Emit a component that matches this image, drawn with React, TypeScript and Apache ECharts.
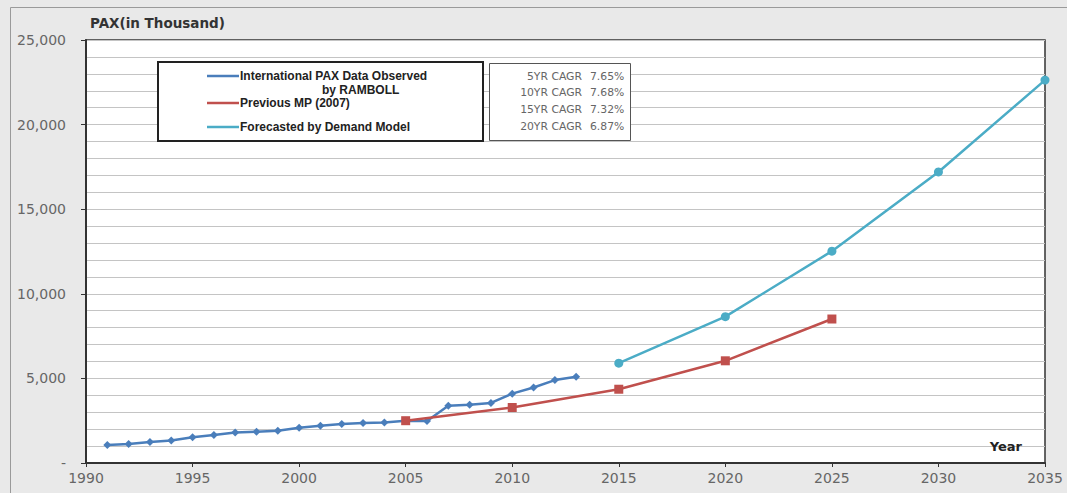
import React, { useEffect, useRef } from "react";
import * as echarts from "echarts";

// Observed international passengers (thousand)
const observedYears = [1991, 1992, 1993, 1994, 1995, 1996, 1997, 1998, 1999, 2000, 2001, 2002, 2003, 2004, 2005, 2006, 2007, 2008, 2009, 2010, 2011, 2012, 2013];
const observedPax = [1070, 1120, 1240, 1330, 1520, 1650, 1800, 1850, 1900, 2080, 2200, 2300, 2370, 2400, 2500, 2480, 3380, 3440, 3550, 4100, 4460, 4900, 5100];

// Previous master plan (2007)
const previousYears = [2005, 2010, 2015, 2020, 2025];
const previousPax = [2500, 3280, 4360, 6040, 8510];

// Demand model forecast
const forecastYears = [2015, 2020, 2025, 2030, 2035];
const forecastPax = [5900, 8650, 12520, 17200, 22630];

const cagrLabels = ["5YR CAGR", "10YR CAGR", "15YR CAGR", "20YR CAGR"];
const cagrValues = ["7.65%", "7.68%", "7.32%", "6.87%"];

const legendNames = ["International PAX Data Observed", "Previous MP (2007)", "Forecasted by Demand Model"];

const BLUE = "#4a7ebb";
const RED = "#c0504d";
const CYAN = "#4bacc6";

const pairs = (xs: number[], ys: number[]) => xs.map((x, i) => [x, ys[i]]);

export default function App() {
  const ref = useRef<HTMLDivElement>(null);

  useEffect(() => {
    document.body.style.margin = "0";
    const chart = echarts.init(ref.current!, null, { renderer: "svg" });

    const legendBox = { x: 158, y: 62, w: 325, h: 79 };
    const legendRows = [
      { y: 76, color: BLUE },
      { y: 103, color: RED },
      { y: 127, color: CYAN },
    ];
    const legendFont = "bold 12px 'Liberation Sans'";

    const graphics: any[] = [
      {
        type: "rect",
        z: 100,
        shape: { x: 10.5, y: 7.5, width: 1080, height: 520 },
        style: { fill: "none", stroke: "#9a9a9a", lineWidth: 1 },
        silent: true,
      },
      {
        type: "text",
        z: 100,
        x: 90,
        y: 23,
        style: {
          text: "PAX(in Thousand)",
          font: "bold 13.5px 'DejaVu Sans'",
          fill: "#333",
          textVerticalAlign: "middle",
        },
      },
      {
        type: "text",
        z: 100,
        x: 1022,
        y: 446,
        style: {
          text: "Year",
          font: "bold 13px 'DejaVu Sans'",
          fill: "#222",
          textAlign: "right",
          textVerticalAlign: "middle",
        },
      },
      {
        type: "rect",
        z: 100,
        shape: { x: legendBox.x, y: legendBox.y, width: legendBox.w, height: legendBox.h },
        style: { fill: "#fff", stroke: "#222", lineWidth: 2 },
      },
      {
        type: "rect",
        z: 100,
        shape: { x: 489.5, y: 63.5, width: 141, height: 77 },
        style: { fill: "#fff", stroke: "#555", lineWidth: 1 },
      },
    ];

    legendRows.forEach((row, i) => {
      graphics.push({
        type: "line",
        z: 101,
        shape: { x1: 207, y1: row.y, x2: 239, y2: row.y },
        style: { stroke: row.color, lineWidth: 2.5 },
      });
      graphics.push({
        type: "text",
        z: 101,
        x: 240,
        y: row.y,
        style: {
          text: legendNames[i],
          font: legendFont,
          fill: "#222",
          textVerticalAlign: "middle",
        },
      });
    });
    graphics.push({
      type: "text",
      z: 101,
      x: 322,
      y: 90,
      style: {
        text: "by RAMBOLL",
        font: legendFont,
        fill: "#222",
        textVerticalAlign: "middle",
      },
    });

    const cagrY = [76, 92, 109, 126];
    cagrLabels.forEach((lab, i) => {
      graphics.push({
        type: "text",
        z: 101,
        x: 582,
        y: cagrY[i],
        style: {
          text: lab,
          font: "10.8px 'DejaVu Sans'",
          fill: "#666",
          textAlign: "right",
          textVerticalAlign: "middle",
        },
      });
      graphics.push({
        type: "text",
        z: 101,
        x: 590,
        y: cagrY[i],
        style: {
          text: cagrValues[i],
          font: "10.8px 'DejaVu Sans'",
          fill: "#666",
          textVerticalAlign: "middle",
        },
      });
    });

    chart.setOption({
      animation: false,
      backgroundColor: "#e9e9e9",
      grid: {
        left: 86,
        right: 22,
        top: 40,
        bottom: 30,
        show: true,
        backgroundColor: "#fff",
        borderColor: "#333",
        borderWidth: 1.5,
      },
      xAxis: {
        type: "value",
        min: 1990,
        max: 2035,
        interval: 5,
        axisLine: { show: true, lineStyle: { color: "#333", width: 2 } },
        axisTick: { show: true, length: 4, lineStyle: { color: "#333" } },
        axisLabel: {
          margin: 8,
          color: "#666",
          fontFamily: "DejaVu Sans",
          fontSize: 14,
          formatter: (v: number) => String(v),
        },
        splitLine: { show: false },
      },
      yAxis: {
        type: "value",
        min: 0,
        max: 25000,
        interval: 5000,
        axisLine: { show: true, lineStyle: { color: "#333", width: 2 } },
        axisTick: { show: true, length: 5, lineStyle: { color: "#333" } },
        minorTick: { show: false, splitNumber: 5 },
        axisLabel: {
          margin: 20,
          color: "#666",
          fontFamily: "DejaVu Sans",
          fontSize: 14,
          formatter: (v: number) => (v === 0 ? "-" : v.toLocaleString("en-US")),
        },
        splitLine: { show: true, lineStyle: { color: "#c4c4c4", width: 1 } },
        minorSplitLine: { show: true, lineStyle: { color: "#c4c4c4", width: 1 } },
      },
      series: [
        {
          name: legendNames[0],
          type: "line",
          data: pairs(observedYears, observedPax),
          symbol: "diamond",
          symbolSize: 8,
          itemStyle: { color: BLUE },
          lineStyle: { color: BLUE, width: 2.5 },
          z: 3,
        },
        {
          name: legendNames[1],
          type: "line",
          data: pairs(previousYears, previousPax),
          symbol: "rect",
          symbolSize: 9,
          itemStyle: { color: RED },
          lineStyle: { color: RED, width: 2.5 },
          z: 4,
        },
        {
          name: legendNames[2],
          type: "line",
          data: pairs(forecastYears, forecastPax),
          symbol: "circle",
          symbolSize: 9,
          itemStyle: { color: CYAN },
          lineStyle: { color: CYAN, width: 2.5 },
          z: 3,
        },
      ],
      graphic: graphics,
    });

    return () => chart.dispose();
  }, []);

  return (
    <div
      ref={ref}
      style={{ position: "fixed", left: 0, top: 0, width: 1067, height: 493 }}
    />
  );
}
